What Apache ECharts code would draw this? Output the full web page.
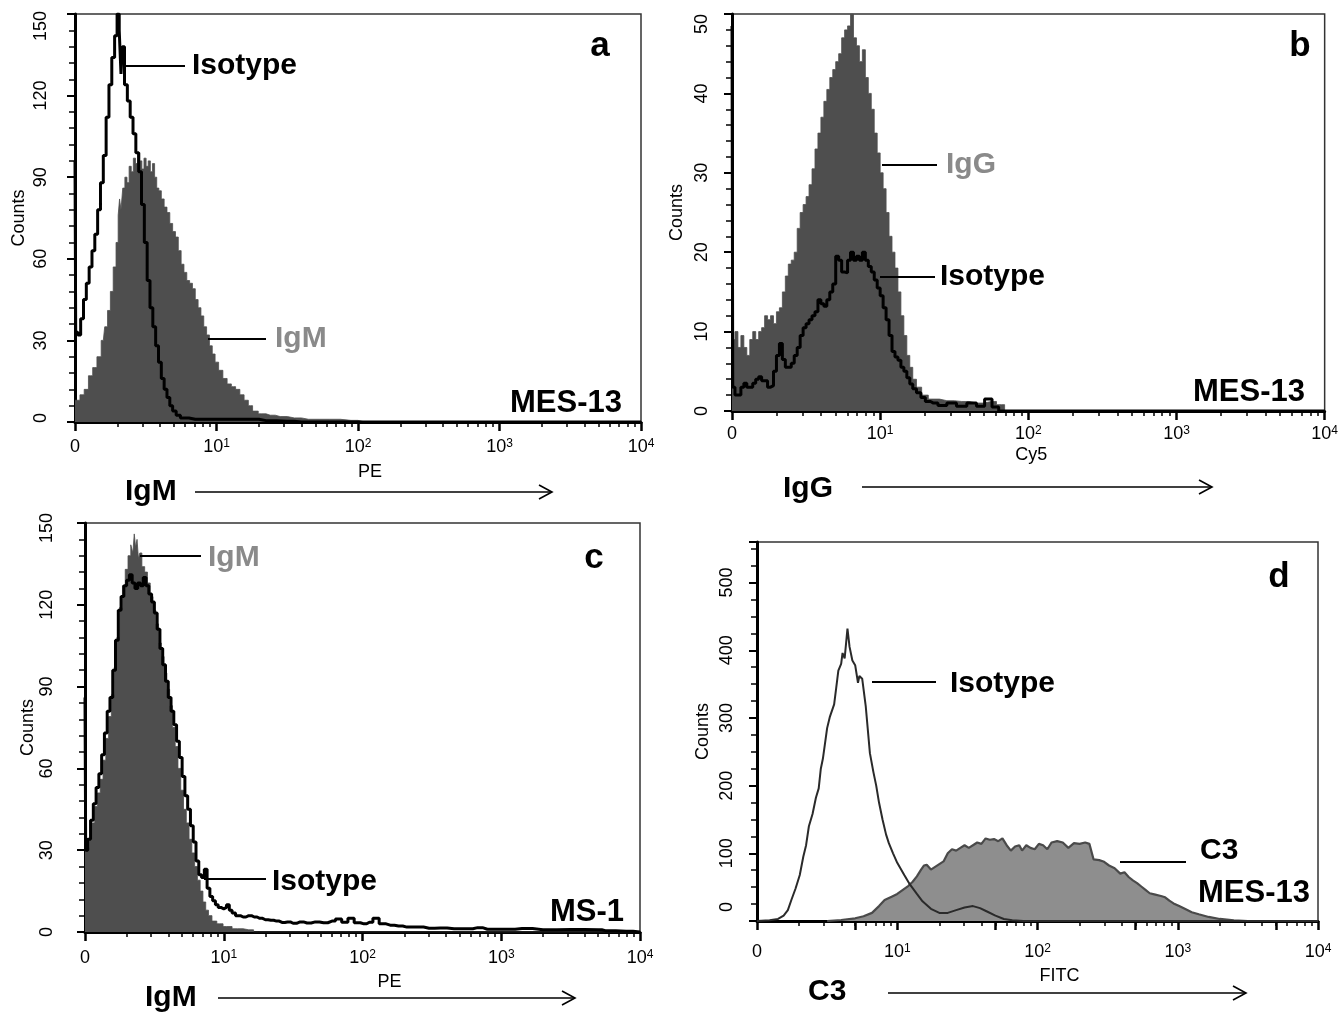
<!DOCTYPE html>
<html>
<head>
<meta charset="utf-8">
<title>Flow cytometry histograms</title>
<script src="https://cdn.jsdelivr.net/npm/echarts@6/dist/echarts.min.js"></script>
<style>
  html, body { margin: 0; padding: 0; background: #fff; }
  #chart { width: 1341px; height: 1015px; }
</style>
</head>
<body>
<div id="chart"></div>
<script>
// x values are log10 of fluorescence intensity (0 = 10^0 ... 4 = 10^4), y = counts
const decadeLabels = ['0', '10^1', '10^2', '10^3', '10^4'];

// panel a: MES-13, IgM vs isotype
const aIgM = [
  [0, 8], [0.02, 8], [0.05, 10], [0.08, 12], [0.11, 17], [0.14, 20], [0.17, 24], [0.2, 30],
  [0.22, 35], [0.24, 41], [0.26, 48], [0.28, 57], [0.3, 66], [0.31, 76], [0.32, 82], [0.33, 78],
  [0.345, 86], [0.36, 90], [0.375, 88], [0.39, 94], [0.405, 92], [0.42, 97], [0.435, 95], [0.45, 99],
  [0.465, 96], [0.48, 93], [0.495, 97], [0.51, 94], [0.525, 96], [0.54, 92], [0.555, 95], [0.57, 90],
  [0.585, 86], [0.6, 85], [0.62, 82], [0.64, 79], [0.66, 77], [0.68, 73], [0.7, 70], [0.72, 68],
  [0.74, 63], [0.76, 58], [0.78, 55], [0.8, 52], [0.82, 51], [0.84, 49], [0.86, 45], [0.88, 42],
  [0.9, 39], [0.92, 35], [0.94, 32], [0.96, 28], [0.98, 25], [1.0, 22], [1.03, 19], [1.06, 16],
  [1.09, 14], [1.12, 13], [1.15, 12], [1.18, 10], [1.21, 8], [1.24, 6], [1.27, 4], [1.32, 3],
  [1.38, 2.5], [1.45, 2], [1.55, 1.5], [1.65, 1], [1.8, 1], [1.95, 0.6], [2.05, 0], [4, 0]
];
const aIso = [
  [0, 96], [0.01, 33], [0.03, 32], [0.05, 38], [0.07, 45], [0.09, 51], [0.11, 57], [0.13, 63],
  [0.15, 69], [0.17, 78], [0.19, 88], [0.21, 98], [0.23, 112], [0.25, 124], [0.27, 134], [0.29, 142],
  [0.305, 150], [0.32, 144], [0.33, 128], [0.34, 138], [0.36, 124], [0.38, 118], [0.4, 112], [0.42, 106],
  [0.44, 99], [0.46, 92], [0.48, 80], [0.5, 66], [0.52, 52], [0.54, 42], [0.56, 35], [0.58, 28],
  [0.6, 22], [0.62, 16], [0.64, 12], [0.66, 9], [0.68, 6], [0.7, 4], [0.73, 2.5], [0.76, 1.5],
  [0.85, 1], [1.0, 1], [1.15, 1], [1.25, 1], [1.35, 0.5], [1.5, 0.3], [1.6, 0], [4, 0]
];

// panel b: MES-13, IgG vs isotype
const bIgG = [
  [0, 28], [0.01, 9], [0.03, 10], [0.05, 8], [0.07, 9.5], [0.09, 8], [0.11, 7], [0.13, 9],
  [0.15, 10], [0.17, 9], [0.19, 10], [0.21, 10.5], [0.23, 12], [0.25, 11.5], [0.27, 12], [0.29, 11],
  [0.31, 12.5], [0.33, 13], [0.35, 15], [0.37, 17], [0.39, 18.5], [0.41, 19], [0.43, 20], [0.45, 23],
  [0.47, 25], [0.49, 26], [0.51, 27], [0.53, 28.5], [0.55, 30.5], [0.57, 33], [0.59, 35], [0.61, 37],
  [0.63, 39], [0.65, 40.5], [0.67, 42], [0.69, 43], [0.71, 44], [0.73, 45], [0.75, 47], [0.77, 48],
  [0.79, 48.5], [0.81, 50], [0.83, 47], [0.85, 46], [0.87, 44], [0.89, 45.5], [0.91, 42], [0.93, 40],
  [0.95, 38], [0.97, 35], [0.99, 32.5], [1.01, 30], [1.03, 28], [1.05, 25], [1.07, 22], [1.09, 20],
  [1.11, 18], [1.13, 15], [1.15, 12], [1.17, 9.5], [1.19, 7], [1.21, 5.5], [1.23, 4], [1.26, 3],
  [1.3, 2], [1.35, 1.5], [1.45, 1.3], [1.55, 1.2], [1.65, 1], [1.75, 1.2], [1.82, 0.8], [1.86, 0], [4, 0]
];
const bIso = [
  [0, 48.5], [0.01, 3], [0.03, 2], [0.05, 2], [0.07, 3], [0.09, 3.5], [0.11, 3], [0.13, 3],
  [0.15, 3.5], [0.17, 4], [0.19, 4.3], [0.21, 3.8], [0.23, 3.8], [0.25, 3], [0.27, 3.2], [0.29, 5],
  [0.31, 7], [0.33, 8.5], [0.35, 6.5], [0.37, 5.5], [0.39, 5.5], [0.41, 6], [0.43, 7], [0.45, 8],
  [0.47, 9.5], [0.49, 10.5], [0.51, 11], [0.53, 11.5], [0.55, 12], [0.57, 12.5], [0.59, 14], [0.61, 13.5],
  [0.63, 13.2], [0.65, 14], [0.67, 15], [0.69, 16], [0.71, 19.5], [0.73, 19], [0.75, 17.5], [0.77, 17.4],
  [0.79, 19], [0.81, 20], [0.83, 19], [0.85, 19.5], [0.87, 19], [0.89, 20], [0.91, 19], [0.93, 18.2],
  [0.95, 17.5], [0.97, 16.5], [0.99, 15.5], [1.01, 14.5], [1.03, 13], [1.05, 11.5], [1.07, 9.5], [1.09, 7.5],
  [1.11, 6.8], [1.13, 6.4], [1.15, 5.5], [1.17, 5], [1.19, 4.2], [1.21, 3.4], [1.23, 2.8], [1.26, 2.3],
  [1.29, 1.7], [1.32, 1.2], [1.36, 1], [1.42, 0.7], [1.48, 1], [1.55, 0.6], [1.62, 1], [1.68, 0.6],
  [1.73, 1.5], [1.78, 0.5], [1.82, 0], [4, 0]
];

// panel c: MS-1, IgM vs isotype
const cIgM = [
  [0, 30], [0.02, 31], [0.04, 34], [0.06, 40], [0.08, 46], [0.1, 51], [0.12, 56], [0.14, 63],
  [0.16, 71], [0.18, 79], [0.2, 87], [0.22, 97], [0.24, 108], [0.26, 119], [0.28, 127], [0.3, 133],
  [0.32, 138], [0.34, 142], [0.35, 139], [0.36, 146], [0.37, 141], [0.38, 144], [0.39, 137], [0.4, 139],
  [0.42, 134], [0.44, 132], [0.46, 128], [0.48, 123], [0.5, 118], [0.52, 113], [0.54, 106], [0.56, 101],
  [0.58, 95], [0.6, 89], [0.62, 83], [0.64, 75], [0.66, 68], [0.68, 60], [0.7, 52], [0.72, 45],
  [0.74, 40], [0.76, 34], [0.78, 29], [0.8, 24], [0.82, 19], [0.84, 15], [0.86, 11], [0.88, 8],
  [0.9, 6], [0.93, 4], [0.97, 3], [1.02, 2], [1.1, 1.2], [1.18, 0.8], [1.25, 0], [4, 0]
];
const cIso = [
  [0, 86], [0.01, 30], [0.03, 34], [0.05, 41], [0.07, 47], [0.09, 53], [0.11, 58], [0.13, 65],
  [0.15, 73], [0.17, 81], [0.19, 86], [0.21, 96], [0.23, 107], [0.25, 118], [0.27, 123], [0.29, 127],
  [0.31, 129], [0.33, 131], [0.35, 128], [0.37, 126], [0.39, 128], [0.41, 127], [0.43, 130], [0.45, 127],
  [0.47, 124], [0.49, 121], [0.51, 117], [0.53, 111], [0.55, 104], [0.57, 98], [0.59, 92], [0.61, 86],
  [0.63, 81], [0.65, 76], [0.67, 70], [0.69, 64], [0.71, 57], [0.73, 50], [0.75, 45], [0.77, 39],
  [0.79, 33], [0.81, 26], [0.83, 21], [0.85, 20], [0.87, 23], [0.89, 16], [0.91, 13], [0.93, 11.5],
  [0.95, 10], [0.97, 9], [0.99, 8.5], [1.01, 9], [1.03, 10], [1.05, 8], [1.07, 7], [1.1, 6],
  [1.14, 5.5], [1.18, 6], [1.22, 5.5], [1.26, 5], [1.3, 4.5], [1.34, 4.3], [1.38, 4], [1.42, 3.5],
  [1.46, 3.7], [1.5, 3.2], [1.55, 3.7], [1.6, 3.3], [1.66, 3.7], [1.72, 3.4], [1.78, 4], [1.83, 4.8],
  [1.87, 3.6], [1.92, 5], [1.96, 3.4], [2.01, 3], [2.05, 3.6], [2.1, 5], [2.14, 3], [2.2, 2.5],
  [2.26, 2.2], [2.32, 1.8], [2.4, 1.8], [2.48, 1.4], [2.56, 1.5], [2.66, 1.2], [2.76, 1.2], [2.83, 1.6],
  [2.9, 1], [3.05, 1], [3.15, 1.3], [3.3, 0.8], [3.5, 0.9], [3.7, 0.8], [3.75, 0.5], [3.9, 0.3], [4, 0]
];

// panel d: MES-13, C3 vs isotype
const dIso = [
  [0, 0], [0.09, 1], [0.15, 3], [0.19, 8], [0.22, 16], [0.245, 31], [0.275, 48], [0.305, 68],
  [0.33, 95], [0.35, 112], [0.37, 140], [0.396, 158], [0.42, 182], [0.44, 196], [0.455, 225], [0.47, 240],
  [0.5, 285], [0.52, 302], [0.55, 320], [0.565, 345], [0.58, 370], [0.6, 380], [0.61, 396], [0.625, 388],
  [0.645, 432], [0.66, 405], [0.68, 385], [0.7, 378], [0.72, 352], [0.73, 362], [0.75, 358], [0.775, 318],
  [0.805, 248], [0.83, 220], [0.85, 200], [0.87, 175], [0.895, 150], [0.92, 128], [0.94, 115], [0.97, 100],
  [1.0, 86], [1.05, 68], [1.09, 54], [1.14, 40], [1.18, 29], [1.24, 18], [1.3, 12], [1.36, 12],
  [1.42, 16], [1.48, 20], [1.54, 22], [1.59, 19], [1.64, 14], [1.7, 8], [1.76, 3], [1.82, 1], [1.9, 0], [4, 0]
];
const dC3 = [
  [0.5, 0], [0.6, 1.5], [0.7, 4], [0.76, 7], [0.82, 12], [0.87, 22], [0.91, 31], [0.96, 36],
  [1.0, 40], [1.04, 46], [1.08, 52], [1.11, 58], [1.14, 66], [1.17, 76], [1.19, 82], [1.21, 83],
  [1.24, 76], [1.27, 80], [1.3, 84], [1.33, 88], [1.36, 100], [1.39, 106], [1.42, 104], [1.45, 108],
  [1.48, 112], [1.51, 108], [1.54, 112], [1.57, 116], [1.6, 114], [1.63, 122], [1.66, 120], [1.69, 121],
  [1.72, 118], [1.75, 122], [1.78, 112], [1.81, 104], [1.84, 110], [1.87, 112], [1.89, 104], [1.92, 112],
  [1.95, 108], [1.98, 106], [2.01, 114], [2.04, 112], [2.07, 106], [2.1, 116], [2.14, 118], [2.18, 116],
  [2.22, 108], [2.26, 115], [2.3, 114], [2.34, 116], [2.37, 114], [2.4, 91], [2.44, 90], [2.47, 88],
  [2.51, 82], [2.55, 78], [2.59, 70], [2.62, 72], [2.65, 65], [2.68, 60], [2.71, 56], [2.74, 51],
  [2.77, 46], [2.8, 41], [2.84, 39], [2.88, 37], [2.91, 35], [2.94, 30], [2.97, 26], [3.01, 22],
  [3.05, 18], [3.1, 13], [3.15, 10], [3.22, 6], [3.3, 3], [3.4, 1], [3.5, 0]
];

const FONT = '"Liberation Sans", Arial, sans-serif';
const GRAY_FILL = '#4e4e4e';
const GRAY_TEXT = '#8a8a8a';

// minor ticks at 2..9 x 10^n
const minorTicks = [];
for (let d = 0; d < 4; d++) {
  for (let k = 2; k <= 9; k++) minorTicks.push(d + Math.log10(k));
}
const majorTicks = [0, 1, 2, 3, 4];

const panels = [
  { box: [75, 14, 566, 408], yMax: 150, yStep: 30, yMinor: 5, xName: 'PE', nameGapX: 41, nameShift: 12,
    xMargin: 16, yMargin: 25, countsGap: 47, zeroShift: 4, maxShift: 12 },
  { box: [732, 14, 600, 397], yMax: 50, yStep: 10, yMinor: 5, xName: 'Cy5', nameGapX: 35, nameShift: 3,
    xMargin: 14, yMargin: 21, countsGap: 46, zeroShift: 0, maxShift: 10 },
  { box: [85, 523, 555, 409], yMax: 150, yStep: 30, yMinor: 5, xName: 'PE', nameGapX: 41, nameShift: 27,
    xMargin: 17, yMargin: 29, countsGap: 44, zeroShift: 0, maxShift: 5 },
  { box: [757, 542, 561, 379], yMax: 560, yStep: 100, yMinor: 4, xName: 'FITC', nameGapX: 46, nameShift: 22,
    xMargin: 22, yMargin: 21, countsGap: 45, zeroShift: 14, maxShift: 0,
    ticks: majorTicks.concat([0, 1, 2, 3].map(d => d + Math.log10(5))) }
];

const grids = [];
const xAxes = [];
const yAxes = [];

panels.forEach((p, i) => {
  grids.push({
    left: p.box[0], top: p.box[1], width: p.box[2], height: p.box[3],
    show: true, borderColor: '#333', borderWidth: 1.5
  });
  xAxes.push({
    gridIndex: i, type: 'value', position: 'bottom', min: 0, max: 4, interval: 1,
    name: p.xName, nameLocation: 'middle', nameGap: p.nameGapX,
    nameTextStyle: { fontFamily: FONT, fontSize: 18, color: '#000', padding: [0, 0, 0, p.nameShift * 2] },
    axisLine: { show: true, lineStyle: { color: '#000', width: 3 } },
    axisTick: {
      show: true, length: 9, lineStyle: { color: '#000', width: 2.5 },
      customValues: p.ticks || majorTicks
    },
    axisLabel: {
      show: true, margin: p.xMargin, color: '#000', fontFamily: FONT, fontSize: 18,
      formatter: v => {
        const lab = decadeLabels[Math.round(v)];
        if (lab.indexOf('^') < 0) return lab;
        const parts = lab.split('^');
        return '{b|' + parts[0] + '}{s|' + parts[1] + '}';
      },
      rich: {
        b: { fontFamily: FONT, fontSize: 18, color: '#000' },
        s: { fontFamily: FONT, fontSize: 12, color: '#000', verticalAlign: 'top' }
      }
    },
    splitLine: { show: false }
  });
  // second axis on the same grid only carries the 2..9 minor ticks
  xAxes.push({
    gridIndex: i, type: 'value', position: 'bottom', min: 0, max: 4,
    axisLine: { show: false },
    axisLabel: { show: false },
    axisTick: {
      show: true, length: 5, lineStyle: { color: '#000', width: 1.5 },
      customValues: minorTicks
    },
    splitLine: { show: false }
  });
  yAxes.push({
    gridIndex: i, type: 'value', position: 'left', min: 0, max: p.yMax, interval: p.yStep,
    name: 'Counts', nameLocation: 'middle', nameGap: p.countsGap, nameRotate: 90,
    nameTextStyle: { fontFamily: FONT, fontSize: 18, color: '#000' },
    axisLine: { show: true, lineStyle: { color: '#000', width: 3 } },
    axisTick: { show: true, length: 8, lineStyle: { color: '#000', width: 2 } },
    minorTick: { show: true, splitNumber: p.yMinor, length: 6, lineStyle: { color: '#000', width: 1.5 } },
    axisLabel: {
      show: true, rotate: 90, margin: p.yMargin, color: '#000', fontFamily: FONT, fontSize: 18,
      showMaxLabel: p.yMax % p.yStep === 0,
      formatter: v => {
        if (v === 0 && p.zeroShift) return '{z|0}';
        if (v === p.yMax && p.maxShift) return '{m|' + v + '}';
        return String(v);
      },
      rich: {
        z: { fontFamily: FONT, fontSize: 18, color: '#000', padding: [0, 0, 0, p.zeroShift * 2] },
        m: { fontFamily: FONT, fontSize: 18, color: '#000', padding: [0, p.maxShift * 2, 0, 0] }
      }
    },
    splitLine: { show: false }
  });
});

const fillSeries = (i, data) => ({
  type: 'line', xAxisIndex: i * 2, yAxisIndex: i, data, step: 'middle', symbol: 'none',
  lineStyle: { width: 0.8, color: GRAY_FILL }, areaStyle: { color: GRAY_FILL, opacity: 1 },
  silent: true, animation: false, z: 2
});
const isoSeries = (i, data) => ({
  type: 'line', xAxisIndex: i * 2, yAxisIndex: i, data, step: 'middle', symbol: 'none',
  lineStyle: { width: 3, color: '#000' }, silent: true, animation: false, z: 3
});

const series = [
  fillSeries(0, aIgM), isoSeries(0, aIso),
  fillSeries(1, bIgG), isoSeries(1, bIso),
  fillSeries(2, cIgM), isoSeries(2, cIso),
  {
    type: 'line', xAxisIndex: 6, yAxisIndex: 3, data: dC3, symbol: 'none',
    lineStyle: { width: 2.2, color: '#4a4a4a' }, areaStyle: { color: '#8e8e8e', opacity: 1 },
    silent: true, animation: false, z: 2
  },
  {
    type: 'line', xAxisIndex: 6, yAxisIndex: 3, data: dIso, symbol: 'none',
    lineStyle: { width: 2, color: '#2a2a2a' }, silent: true, animation: false, z: 3
  }
];

// annotation helpers
const label = (x, y, text, opts = {}) => ({
  type: 'text', x, y, z: 10,
  style: {
    text, fill: opts.color || '#000', font: 'bold ' + (opts.size || 30) + 'px ' + FONT,
    align: opts.align || 'left', verticalAlign: 'middle'
  }
});
const leader = (x1, x2, y) => ({
  type: 'line', z: 10, shape: { x1, y1: y, x2, y2: y }, style: { stroke: '#000', lineWidth: 2 }
});
const arrow = (x1, x2, y) => ({
  type: 'group', z: 10,
  children: [
    { type: 'line', shape: { x1, y1: y, x2, y2: y }, style: { stroke: '#000', lineWidth: 1.6 } },
    { type: 'polyline', shape: { points: [[x2 - 13, y - 7], [x2, y], [x2 - 13, y + 7]] },
      style: { stroke: '#000', lineWidth: 1.6, fill: null } }
  ]
});

const graphic = [
  // panel a
  label(600, 46, 'a', { size: 35, align: 'center' }),
  leader(125, 185, 66), label(192, 66, 'Isotype'),
  leader(208, 266, 339), label(275, 339, 'IgM', { color: GRAY_TEXT }),
  label(622, 403, 'MES-13', { size: 31, align: 'right' }),
  label(125, 492, 'IgM'), arrow(195, 552, 492),
  // panel b
  label(1300, 46, 'b', { size: 35, align: 'center' }),
  leader(882, 937, 165), label(946, 165, 'IgG', { color: GRAY_TEXT }),
  leader(880, 935, 277), label(940, 277, 'Isotype'),
  label(1305, 392, 'MES-13', { size: 31, align: 'right' }),
  label(783, 489, 'IgG'), arrow(862, 1212, 487),
  // panel c
  label(594, 558, 'c', { size: 35, align: 'center' }),
  leader(140, 201, 556), label(208, 558, 'IgM', { color: GRAY_TEXT }),
  leader(204, 266, 879), label(272, 882, 'Isotype'),
  label(624, 912, 'MS-1', { size: 31, align: 'right' }),
  label(145, 998, 'IgM'), arrow(218, 575, 998),
  // panel d
  label(1279, 577, 'd', { size: 35, align: 'center' }),
  leader(872, 936, 682), label(950, 684, 'Isotype'),
  leader(1120, 1186, 862), label(1200, 851, 'C3'),
  label(1198, 893, 'MES-13', { size: 31 }),
  label(808, 992, 'C3'), arrow(888, 1246, 993)
];

const chart = echarts.init(document.getElementById('chart'), null, { renderer: 'canvas' });
chart.setOption({
  backgroundColor: '#fff',
  animation: false,
  grid: grids,
  xAxis: xAxes,
  yAxis: yAxes,
  series,
  graphic
});
</script>
</body>
</html>
